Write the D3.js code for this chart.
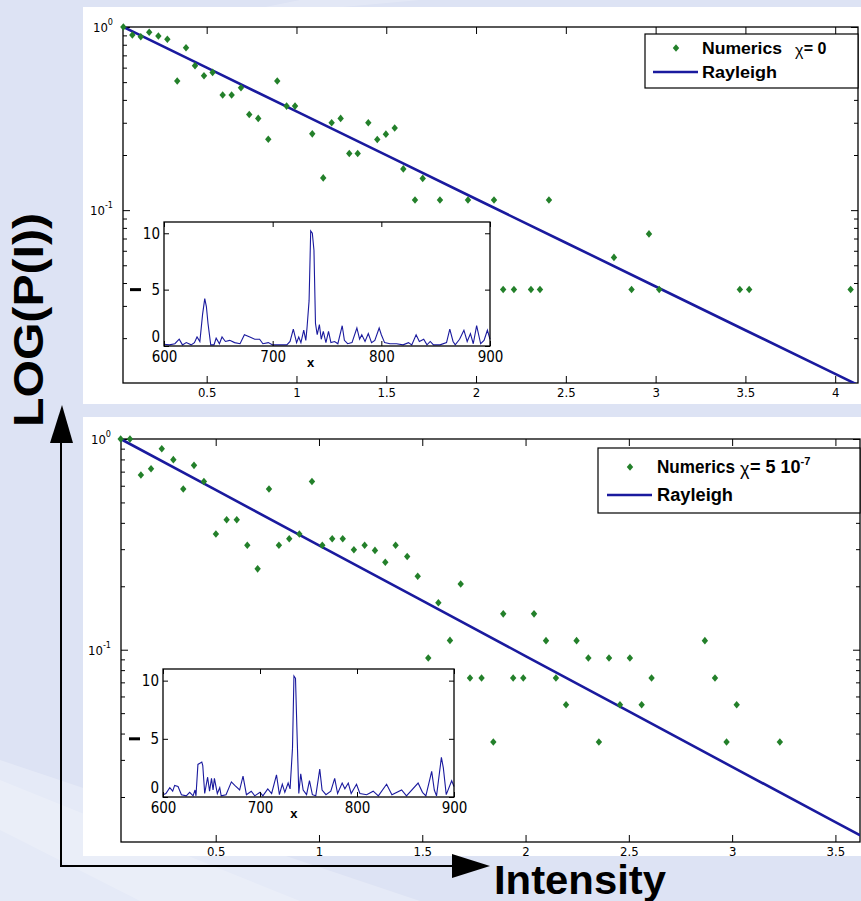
<!DOCTYPE html>
<html>
<head>
<meta charset="utf-8">
<script src="https://cdn.jsdelivr.net/npm/d3@7"></script>
<style>
  body { margin: 0; background: #dde3f4; }
  svg { display: block; }
</style>
</head>
<body>
<svg id="chart" width="861" height="901"></svg>
<script>
// ---- data ----

// top panel (chi = 0): [intensity, P(I)]
const topNumerics = [
  [0.036, 1.0], [0.086, 0.904], [0.133, 0.885], [0.180, 0.936], [0.231, 0.893], [0.281, 0.857],
  [0.336, 0.507], [0.385, 0.770], [0.435, 0.615], [0.485, 0.542], [0.533, 0.565], [0.589, 0.425],
  [0.639, 0.425], [0.691, 0.466], [0.737, 0.333], [0.787, 0.317], [0.843, 0.244], [0.893, 0.507],
  [0.945, 0.370], [0.992, 0.370], [1.088, 0.261], [1.149, 0.150], [1.196, 0.300], [1.246, 0.317],
  [1.294, 0.204], [1.341, 0.204], [1.400, 0.300], [1.450, 0.243], [1.498, 0.260], [1.547, 0.281],
  [1.595, 0.168], [1.660, 0.1135], [1.703, 0.149], [1.799, 0.1135], [1.955, 0.1135], [2.100, 0.1135],
  [2.151, 0.0369], [2.211, 0.0369], [2.306, 0.0369], [2.356, 0.0369], [2.406, 0.1135], [2.768, 0.0552],
  [2.866, 0.0369], [2.963, 0.0742], [3.020, 0.0369], [3.469, 0.0369], [3.521, 0.0369], [4.086, 0.0369]
];
const topRayleigh = [
  [0.035, 1.0], [0.5, 0.60], [1.0, 0.346], [1.5, 0.1996], [2.0, 0.115], [2.5, 0.0664],
  [3.0, 0.0383], [3.5, 0.0221], [4.0, 0.01276], [4.13, 0.01106]
];
// top inset: [x, |psi|^2]
const topInset = [
  [600, 0.15], [605, 0.1], [610, 0.2], [614, 0.6], [617, 0.1], [620.5, 0.3], [625, 0.1], [628, 0.3],
  [630.4, 0.8], [633, 0.4], [635.5, 2.8], [637.5, 4.2], [639, 3.5], [640.5, 2.0], [643, 0.1], [646, 0.1],
  [648, 0.7], [651, 0.2], [653.4, 0.8], [656.5, 0.4], [660.5, 0.5], [665, 0.3], [670, 0.2], [674, 1.0],
  [679, 0.8], [683.5, 0.6], [688, 0.6], [691, 0.2], [696, 0.3], [700, 0.1], [713, 0.1], [716, 0.4],
  [719, 1.5], [722, 0.3], [724, 0.8], [726, 0.3], [728.6, 1.4], [730.5, 0.5], [731.6, 1.6], [733.5, 4],
  [735, 10.2], [736.5, 10], [738, 8.5], [739.4, 2], [741, 1.0], [743, 1.9], [744.7, 0.6], [746.6, 1.3],
  [749, 0.3], [751.4, 1.3], [753.6, 0.3], [757, 0.4], [760, 0.2], [764, 1.8], [766, 0.5], [769, 0.2],
  [773, 0.3], [777.5, 1.6], [780, 0.6], [782, 1.0], [785, 0.4], [788, 1.1], [791, 0.3], [794, 0.5],
  [798, 1.6], [800, 1.0], [803, 0.3], [808, 0.2], [814, 0.2], [820, 0.1], [825, 0.3], [828, 0.1],
  [832, 1.0], [835, 0.4], [839, 0.6], [842, 0.1], [845, 0.4], [848, 0.1], [854, 0.1], [860, 0.3],
  [863, 1.5], [866, 0.4], [868, 0.1], [872, 0.6], [876, 1.4], [879, 0.4], [882, 1.1], [884.6, 0.2],
  [887.7, 1.8], [891.4, 0.2], [894.5, 0.5], [897.6, 1.4], [900, 0.6]
];

// bottom panel (chi = 5 10^-7)
const bottomNumerics = [
  [0.040, 1.0], [0.085, 1.0], [0.138, 0.675], [0.187, 0.723], [0.239, 0.899], [0.295, 0.798],
  [0.343, 0.579], [0.395, 0.750], [0.443, 0.629], [0.501, 0.354], [0.553, 0.414], [0.602, 0.414],
  [0.653, 0.313], [0.703, 0.242], [0.758, 0.579], [0.806, 0.313], [0.856, 0.336], [0.905, 0.354],
  [0.966, 0.629], [1.016, 0.313], [1.064, 0.336], [1.115, 0.336], [1.169, 0.298], [1.221, 0.313],
  [1.271, 0.296], [1.321, 0.260], [1.371, 0.313], [1.427, 0.277], [1.478, 0.223], [1.529, 0.0914],
  [1.578, 0.167], [1.634, 0.1107], [1.686, 0.205], [1.731, 0.0734], [1.787, 0.0734], [1.844, 0.0365],
  [1.892, 0.148], [1.940, 0.0734], [1.989, 0.0734], [2.041, 0.148], [2.099, 0.1104], [2.147, 0.0734],
  [2.196, 0.0548], [2.247, 0.1104], [2.304, 0.0914], [2.355, 0.0365], [2.404, 0.0914], [2.457, 0.0548],
  [2.505, 0.0914], [2.562, 0.0548], [2.610, 0.0734], [2.868, 0.1104], [2.917, 0.0734], [2.973, 0.0365],
  [3.022, 0.0548], [3.231, 0.0365]
];
const bottomRayleigh = [
  [0.04, 1.0], [0.5, 0.573], [1.0, 0.313], [1.5, 0.171], [2.0, 0.0933], [2.5, 0.0510],
  [3.0, 0.0278], [3.5, 0.0152], [3.62, 0.01314]
];
const bottomInset = [
  [600, 0.2], [603, 0.3], [607, 0.8], [610, 0.5], [612, 1.0], [615.5, 0.9], [619, 0.2], [624, 0.1],
  [627.5, 0.4], [631, 0.1], [633, 0.6], [634, 0.1], [636, 2.8], [640, 3.0], [641, 2.7], [643, 0.3],
  [646, 1.7], [648, 0.5], [650, 1.6], [651.6, 0.6], [653, 1.6], [656, 0.3], [658.5, 0.8], [660, 0.1],
  [665, 0.2], [670.5, 1.3], [674, 1.0], [679, 0.6], [682.5, 1.8], [686, 0.2], [691, 0.5], [694.6, 0.1],
  [700, 0.4], [703, 0.1], [708, 0.7], [712, 0.3], [717, 1.9], [720, 0.2], [723, 1.1], [725.6, 0.4],
  [729, 1.2], [731, 0.7], [733.5, 4.2], [735, 10.4], [736.6, 10.2], [738, 6], [740, 0.3], [742, 2.0],
  [744.5, 0.6], [748, 0.2], [751, 1.4], [754, 0.2], [757.5, 0.1], [761.6, 2.4], [764, 0.6], [768, 0.2],
  [773, 0.5], [777, 1.6], [780, 0.3], [784.7, 1.2], [787.5, 0.7], [791, 1.2], [794, 0.3], [799.5, 1.1],
  [803, 0.3], [810, 0.2], [816.7, 0.5], [822, 0.1], [830.5, 1.1], [836, 0.2], [846, 0.6], [851, 0.1],
  [863, 1.2], [867.5, 0.4], [871, 0.1], [877, 2.2], [879.7, 0.6], [882, 0.1], [887, 3.4], [889, 2.5],
  [892, 0.2], [897.6, 1.4], [900, 0.9]
];

// ticks
const topXTicks = [0.5, 1, 1.5, 2, 2.5, 3, 3.5, 4];
const bottomXTicks = [0.5, 1, 1.5, 2, 2.5, 3, 3.5];
const insetXTicks = [600, 700, 800, 900];
const insetYTicks = [0, 5, 10];

// ---- drawing ----
const svg = d3.select("#chart");
const narrow = "'Liberation Sans Narrow', 'DejaVu Sans Condensed', 'Liberation Sans', sans-serif";
const bold = "'Liberation Sans', Arial, sans-serif";
const green = "#23802a";
const navy = "#1a1a9e";

// background with light diagonal streaks
svg.append("rect").attr("width", 861).attr("height", 901).attr("fill", "#dde3f4");
svg.append("path").attr("d", "M0,901 L0,760 L420,901 Z").attr("fill", "#fff").attr("opacity", 0.25);
svg.append("path").attr("d", "M140,901 L300,901 L0,780 L0,830 Z").attr("fill", "#fff").attr("opacity", 0.2);
svg.append("path").attr("d", "M300,0 L420,0 L200,20 Z").attr("fill", "#fff").attr("opacity", 0.2);

function diamond(cx, cy) {
  return `M${cx},${cy - 3.8}L${cx + 3.2},${cy}L${cx},${cy + 3.8}L${cx - 3.2},${cy}Z`;
}

function logLabel(g, xPos, yPos, exp) {
  const t = g.append("text").attr("x", xPos).attr("y", yPos)
    .attr("text-anchor", "end").style("font-family", narrow).style("font-size", "13px");
  t.append("tspan").text("10");
  t.append("tspan").attr("dy", -7).style("font-size", "9px").text(exp);
}

function drawPanel(cfg, idx) {
  const g = svg.append("g");
  const p = cfg.plot;

  // white panel
  g.append("rect")
    .attr("x", cfg.panel[0]).attr("y", cfg.panel[1])
    .attr("width", cfg.panel[2] - cfg.panel[0]).attr("height", cfg.panel[3] - cfg.panel[1])
    .attr("fill", "#fff");

  const x = d3.scaleLinear().domain(cfg.xDomain).range([p.left, p.right]);
  const y = d3.scaleLog().domain(cfg.yDomain).range([p.bottom, p.top]);

  // clip for data
  svg.append("defs").append("clipPath").attr("id", "clip" + idx)
    .append("rect").attr("x", p.left).attr("y", p.top - 2)
    .attr("width", p.right - p.left).attr("height", p.bottom - p.top + 2);

  // x axes (ticks inward)
  const xb = g.append("g").attr("transform", `translate(0,${p.bottom})`)
    .call(d3.axisBottom(x).tickValues(cfg.xTicks).tickSizeInner(-7).tickSizeOuter(0)
      .tickPadding(5).tickFormat(d3.format("")));
  const xt = g.append("g").attr("transform", `translate(0,${p.top})`)
    .call(d3.axisTop(x).tickValues(cfg.xTicks).tickSizeInner(-7).tickSizeOuter(0).tickFormat(""));

  // log y axes: minor and major ticks
  const minors = [];
  [0.01, 0.1].forEach((dec) => {
    for (let k = 2; k <= 9; k++) {
      const v = dec * k;
      if (v >= cfg.yDomain[0] && v <= cfg.yDomain[1]) minors.push(v);
    }
  });
  const majors = [0.1, 1];
  const yl = g.append("g").attr("transform", `translate(${p.left},0)`)
    .call(d3.axisLeft(y).tickValues(minors).tickSizeInner(-4).tickSizeOuter(0).tickFormat(""));
  const yl2 = g.append("g").attr("transform", `translate(${p.left},0)`)
    .call(d3.axisLeft(y).tickValues(majors).tickSizeInner(-7).tickSizeOuter(0).tickFormat(""));
  const yr = g.append("g").attr("transform", `translate(${p.right},0)`)
    .call(d3.axisRight(y).tickValues(minors).tickSizeInner(-4).tickSizeOuter(0).tickFormat(""));
  const yr2 = g.append("g").attr("transform", `translate(${p.right},0)`)
    .call(d3.axisRight(y).tickValues(majors).tickSizeInner(-7).tickSizeOuter(0).tickFormat(""));

  [xb, xt, yl, yl2, yr, yr2].forEach((a) => {
    a.select(".domain").remove();
    a.selectAll("line").attr("stroke", "#000").attr("stroke-width", 1);
    a.selectAll("text").style("font-family", narrow).style("font-size", "13px").attr("fill", "#000");
  });

  logLabel(g, p.left - 10, y(1) + 5, "0");
  logLabel(g, p.left - 10, y(0.1) + 5, "-1");

  // frame
  g.append("rect").attr("x", p.left).attr("y", p.top)
    .attr("width", p.right - p.left).attr("height", p.bottom - p.top)
    .attr("fill", "none").attr("stroke", "#000").attr("stroke-width", 1.3);

  // Rayleigh line
  const line = d3.line().x((d) => x(d[0])).y((d) => y(d[1]));
  g.append("path").datum(cfg.rayleigh).attr("d", line)
    .attr("clip-path", `url(#clip${idx})`)
    .attr("fill", "none").attr("stroke", navy).attr("stroke-width", 2.6);

  // numerics
  g.selectAll(".pt").data(cfg.numerics).join("path").attr("class", "pt")
    .attr("d", (d) => diamond(x(d[0]), y(d[1])))
    .attr("fill", green);

  // inset
  const ins = cfg.inset;
  const ix = d3.scaleLinear().domain([600, 900]).range([ins.left, ins.right]);
  const iy = d3.scaleLinear().domain([0, 11]).range([ins.bottom, ins.top]);
  const ig = g.append("g");
  ig.append("rect").attr("x", ins.left).attr("y", ins.top)
    .attr("width", ins.right - ins.left).attr("height", ins.bottom - ins.top)
    .attr("fill", "#fff");
  const iline = d3.line().x((d) => ix(d[0])).y((d) => iy(d[1]));
  ig.append("path").datum(cfg.insetData).attr("d", iline)
    .attr("fill", "none").attr("stroke", navy).attr("stroke-width", 1.1);

  const ixb = ig.append("g").attr("transform", `translate(0,${ins.bottom})`)
    .call(d3.axisBottom(ix).tickValues(insetXTicks).tickSizeInner(-5).tickSizeOuter(0)
      .tickPadding(5).tickFormat(d3.format("d")));
  const ixt = ig.append("g").attr("transform", `translate(0,${ins.top})`)
    .call(d3.axisTop(ix).tickValues(insetXTicks).tickSizeInner(-5).tickSizeOuter(0).tickFormat(""));
  const iyl = ig.append("g").attr("transform", `translate(${ins.left},0)`)
    .call(d3.axisLeft(iy).tickValues(insetYTicks).tickSizeInner(-5).tickSizeOuter(0)
      .tickPadding(4).tickFormat(d3.format("d")));
  const iyr = ig.append("g").attr("transform", `translate(${ins.right},0)`)
    .call(d3.axisRight(iy).tickValues(insetYTicks).tickSizeInner(-5).tickSizeOuter(0).tickFormat(""));
  [ixb, ixt, iyl, iyr].forEach((a) => {
    a.select(".domain").remove();
    a.selectAll("line").attr("stroke", "#000");
    a.selectAll("text").style("font-family", narrow).style("font-size", "15px").attr("fill", "#000");
  });
  // the "0" label sits just above the "600" label
  iyl.selectAll("text").filter((d) => d === 0).attr("dy", "-0.28em");
  ig.append("rect").attr("x", ins.left).attr("y", ins.top)
    .attr("width", ins.right - ins.left).attr("height", ins.bottom - ins.top)
    .attr("fill", "none").attr("stroke", "#000").attr("stroke-width", 1.3);
  ig.append("text").attr("x", ix(735)).attr("y", ins.bottom + 21)
    .attr("text-anchor", "middle").style("font-family", bold).style("font-weight", "bold")
    .style("font-size", "13px").text("x");
  // small dash left of the "5" label
  ig.append("rect").attr("x", ins.left - 34).attr("y", iy(5) - 1.5)
    .attr("width", 11).attr("height", 3).attr("fill", "#000");

  // legend
  const L = cfg.legend;
  const lg = g.append("g");
  lg.append("rect").attr("x", L.x0).attr("y", L.y0)
    .attr("width", L.x1 - L.x0).attr("height", L.y1 - L.y0)
    .attr("fill", "#fff").attr("stroke", "#000").attr("stroke-width", 1.2);
  lg.append("path").attr("d", diamond(L.markerX, L.row1)).attr("fill", green);
  lg.append("line").attr("x1", L.lineX0).attr("x2", L.lineX1)
    .attr("y1", L.row2).attr("y2", L.row2).attr("stroke", navy).attr("stroke-width", 2.6);
  const base1 = L.row1 + L.fs * 0.36;
  lg.append("text").attr("x", L.textX).attr("y", base1)
    .attr("textLength", L.numW).attr("lengthAdjust", "spacingAndGlyphs")
    .style("font-family", bold).style("font-weight", "bold").style("font-size", L.fs + "px")
    .text("Numerics");
  lg.append("text").attr("x", L.chiX).attr("y", base1 + 2)
    .style("font-family", bold).style("font-size", L.fs + "px")
    .text("χ");
  const t2 = lg.append("text").attr("x", L.chiX + L.fs * 0.55).attr("y", base1)
    .style("font-family", bold).style("font-weight", "bold").style("font-size", L.fs + "px");
  t2.append("tspan").text("= " + L.chiText);
  if (L.chiExp) t2.append("tspan").attr("dy", -L.fs * 0.45).style("font-size", (L.fs * 0.62) + "px").text(L.chiExp);
  lg.append("text").attr("x", L.textX).attr("y", L.row2 + L.fs * 0.36)
    .attr("textLength", L.rayW).attr("lengthAdjust", "spacingAndGlyphs")
    .style("font-family", bold).style("font-weight", "bold").style("font-size", L.fs + "px")
    .text("Rayleigh");
}

drawPanel({
  panel: [83, 7, 861, 404],
  plot: { left: 123, right: 858, top: 27, bottom: 383 },
  xDomain: [0.034, 4.127],
  yDomain: [0.01138, 1],
  xTicks: topXTicks,
  numerics: topNumerics,
  rayleigh: topRayleigh,
  inset: { left: 164, right: 490, top: 222, bottom: 346 },
  insetData: topInset,
  legend: { x0: 645, y0: 34, x1: 858, y1: 88, markerX: 676, row1: 48, row2: 72,
            lineX0: 653, lineX1: 698, textX: 702, chiX: 795, fs: 16, numW: 80, rayW: 75, chiText: "0" }
}, 0);

drawPanel({
  panel: [83, 417, 861, 856],
  plot: { left: 121, right: 860, top: 439, bottom: 842 },
  xDomain: [0.0416, 3.619],
  yDomain: [0.01223, 1],
  xTicks: bottomXTicks,
  numerics: bottomNumerics,
  rayleigh: bottomRayleigh,
  inset: { left: 163, right: 454, top: 669, bottom: 797 },
  insetData: bottomInset,
  legend: { x0: 598, y0: 448, x1: 860, y1: 513, markerX: 630, row1: 467, row2: 495,
            lineX0: 607, lineX1: 652, textX: 657, chiX: 740, fs: 18, numW: 78, rayW: 76,
            chiText: "5 10", chiExp: "-7" }
}, 1);

// axis arrows and big titles
const arrowG = svg.append("g");
arrowG.append("path").attr("d", "M61,440 L61,866 L452,866")
  .attr("fill", "none").attr("stroke", "#000").attr("stroke-width", 2);
arrowG.append("path").attr("d", "M62,405 L73,443 L50,443 Z").attr("fill", "#000");
arrowG.append("path").attr("d", "M490,866 L452,854 L452,878 Z").attr("fill", "#000");

arrowG.append("text")
  .attr("transform", "translate(43,427) rotate(-90)")
  .attr("textLength", 214).attr("lengthAdjust", "spacingAndGlyphs")
  .style("font-family", bold).style("font-weight", "bold").style("font-size", "42px")
  .text("LOG(P(I))");
arrowG.append("text")
  .attr("x", 494).attr("y", 894)
  .attr("textLength", 172).attr("lengthAdjust", "spacingAndGlyphs")
  .style("font-family", bold).style("font-weight", "bold").style("font-size", "40px")
  .text("Intensity");
</script>
</body>
</html>
